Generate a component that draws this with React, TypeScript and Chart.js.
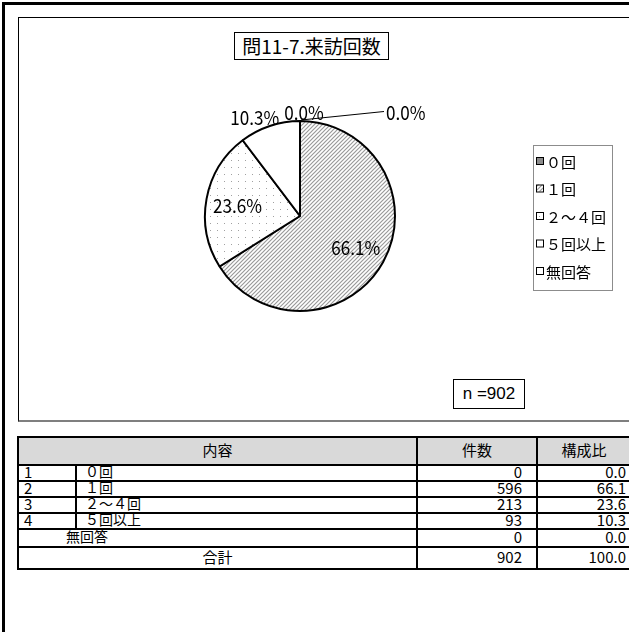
import React, { useEffect, useRef } from "react";
import { Chart, registerables } from "chart.js";

Chart.register(...registerables);

const chartTitle = "問11-7.来訪回数";
const categories = ["０回", "１回", "２～４回", "５回以上", "無回答"];
const counts = [0, 596, 213, 93, 0];
const percents = [0.0, 66.1, 23.6, 10.3, 0.0];
const rowNumbers = ["1", "2", "3", "4"];
const totalLabel = "合計";
const totalCount = 902;
const totalPercent = 100.0;
const sampleSize = "n =902";
const tableHeaders = ["内容", "件数", "構成比"];

const CJK = "'Noto Sans CJK JP', 'Noto Sans', sans-serif";

function makeHatch(): CanvasPattern | string {
  const c = document.createElement("canvas");
  c.width = 4;
  c.height = 4;
  const g = c.getContext("2d");
  if (!g) return "#ccc";
  g.fillStyle = "#ffffff";
  g.fillRect(0, 0, 4, 4);
  g.strokeStyle = "#9a9a9a";
  g.lineWidth = 1.2;
  g.beginPath();
  g.moveTo(0, 4);
  g.lineTo(4, 0);
  g.moveTo(-1, 1);
  g.lineTo(1, -1);
  g.moveTo(3, 5);
  g.lineTo(5, 3);
  g.stroke();
  return g.createPattern(c, "repeat") || "#ccc";
}

function makeDots(): CanvasPattern | string {
  const c = document.createElement("canvas");
  c.width = 7;
  c.height = 7;
  const g = c.getContext("2d");
  if (!g) return "#eee";
  g.fillStyle = "#ffffff";
  g.fillRect(0, 0, 7, 7);
  g.fillStyle = "#a0a0a0";
  g.fillRect(3, 3, 1, 1);
  return g.createPattern(c, "repeat") || "#eee";
}

const leaderRun = 84;
const labelScaleX = 0.9;

const pieDecor = {
  id: "pieDecor",
  afterDatasetsDraw(chart: any) {
    const ctx: CanvasRenderingContext2D = chart.ctx;
    const meta = chart.getDatasetMeta(0);
    const placed: { cx: number; cy: number; w: number }[] = [];
    ctx.save();
    ctx.font = `19px ${CJK}`;
    ctx.fillStyle = "#000";
    ctx.textAlign = "center";
    ctx.textBaseline = "middle";
    const h = 15;
    const overlapping = (cx: number, cy: number, w: number) =>
      placed.find((r) => Math.abs(r.cx - cx) < (r.w + w) / 2 && Math.abs(r.cy - cy) < h);
    meta.data.forEach((arc: any, i: number) => {
      const { x, y, startAngle, endAngle, outerRadius } = arc.getProps(
        ["x", "y", "startAngle", "endAngle", "outerRadius"],
        true
      );
      const pct = percents[i];
      const text = pct.toFixed(1) + "%";
      const mid = (startAngle + endAngle) / 2;
      const dx = Math.cos(mid);
      const dy = Math.sin(mid);
      const w = ctx.measureText(text).width * labelScaleX;
      let cx: number;
      let cy: number;
      if (pct >= 15) {
        cx = x + dx * outerRadius * 0.67;
        cy = y + dy * outerRadius * 0.67 + 1;
      } else {
        const px = x + dx * (outerRadius + 2);
        const py = y + dy * (outerRadius + 2);
        cx = px + (dx * w) / 2 + 4;
        cy = py + (dy * h) / 2 + 1;
        const hit = overlapping(cx, cy, w);
        if (hit) {
          if (pct > 0) {
            cx = hit.cx - hit.w / 2 - 5 - w / 2;
          } else {
            const ex = px + leaderRun;
            ctx.beginPath();
            ctx.strokeStyle = "#000";
            ctx.lineWidth = 1;
            ctx.moveTo(px + 1, py + 1);
            ctx.lineTo(ex, cy - 1);
            ctx.stroke();
            cx = ex + 2 + w / 2;
          }
        }
      }
      placed.push({ cx, cy, w });
      ctx.save();
      ctx.translate(cx, cy);
      ctx.scale(labelScaleX, 1);
      ctx.fillText(text, 0, 0);
      ctx.restore();
    });

    // legend
    const lx = 515;
    const ly = 128;
    const lw = 79;
    const lh = 145;
    ctx.strokeStyle = "#8c8c8c";
    ctx.lineWidth = 1;
    ctx.fillStyle = "#fff";
    ctx.fillRect(lx, ly, lw, lh);
    ctx.strokeRect(lx + 0.5, ly + 0.5, lw, lh);
    const ds = chart.data.datasets[0];
    ctx.font = `15px ${CJK}`;
    ctx.textAlign = "left";
    ctx.textBaseline = "middle";
    chart.data.labels.forEach((label: string, i: number) => {
      const iy = ly + 16 + i * 27.5;
      ctx.fillStyle = ds.backgroundColor[i];
      ctx.fillRect(lx + 3, iy - 4, 7, 7);
      ctx.strokeStyle = "#000";
      ctx.lineWidth = 1;
      ctx.strokeRect(lx + 3.5, iy - 3.5, 7, 7);
      ctx.fillStyle = "#000";
      ctx.fillText(label, lx + 13, iy + 1);
    });
    ctx.restore();
  },
};

export default function App() {
  const ref = useRef<HTMLCanvasElement>(null);
  useEffect(() => {
    const canvas = ref.current;
    if (!canvas) return;
    const colors = ["#8c8c8c", makeHatch(), makeDots(), "#ffffff", "#ffffff"];
    const chart = new Chart(canvas, {
      type: "pie",
      data: {
        labels: categories,
        datasets: [
          {
            data: counts,
            backgroundColor: colors as any,
            borderColor: "#000",
            borderWidth: 2,
          },
        ],
      },
      options: {
        responsive: false,
        animation: false,
        devicePixelRatio: 1,
        layout: { padding: { left: 186, right: 233, top: 103, bottom: 109 } },
        plugins: {
          legend: { display: false },
          tooltip: { enabled: false },
        },
      },
      plugins: [pieDecor],
    });
    return () => chart.destroy();
  }, []);

  const cell: React.CSSProperties = {
    border: "2px solid #000",
    padding: 0,
    paddingBottom: 3,
    lineHeight: "11px",
    whiteSpace: "nowrap",
    fontSize: 14,
    verticalAlign: "middle",
  };
  const numCell: React.CSSProperties = {
    ...cell,
    textAlign: "right",
    fontSize: 15,
    paddingRight: 12,
  };
  const rowH = 16;

  return (
    <div
      style={{
        position: "absolute",
        left: 0,
        top: 0,
        width: 629,
        height: 632,
        overflow: "hidden",
        background: "#fff",
        fontFamily: CJK,
      }}
    >
      <div
        style={{
          position: "absolute",
          left: 2,
          top: 2,
          width: 800,
          height: 800,
          border: "3px solid #000",
          boxSizing: "border-box",
        }}
      />
      <div
        style={{
          position: "absolute",
          left: 18,
          top: 17,
          width: 700,
          height: 405,
          borderLeft: "1px solid #000",
          borderTop: "1px solid #000",
          borderBottom: "2px solid #7f7f7f",
          boxSizing: "border-box",
        }}
      />
      <canvas
        ref={ref}
        width={611}
        height={404}
        style={{ position: "absolute", left: 18, top: 17, width: 611, height: 404 }}
      />
      <div
        style={{
          position: "absolute",
          left: 234,
          top: 32,
          width: 155,
          height: 28,
          border: "1px solid #000",
          boxSizing: "border-box",
          fontSize: 19,
          lineHeight: "26px",
          textAlign: "center",
          background: "#fff",
        }}
      >
        {chartTitle}
      </div>
      <div
        style={{
          position: "absolute",
          left: 453,
          top: 379,
          width: 72,
          height: 30,
          border: "1px solid #000",
          boxSizing: "border-box",
          fontSize: 17,
          fontFamily: "'Liberation Sans', Arial, sans-serif",
          lineHeight: "28px",
          textAlign: "center",
          background: "#fff",
        }}
      >
        {sampleSize}
      </div>
      <table
        style={{
          position: "absolute",
          left: 17,
          top: 436,
          width: 621,
          borderCollapse: "collapse",
          tableLayout: "fixed",
          fontFamily: CJK,
        }}
      >
        <colgroup>
          <col style={{ width: 58 }} />
          <col style={{ width: 341 }} />
          <col style={{ width: 120 }} />
          <col style={{ width: 102 }} />
        </colgroup>
        <tbody>
          <tr style={{ height: 28, background: "#d9d9d9" }}>
            <td colSpan={2} style={{ ...cell, fontSize: 15, textAlign: "center" }}>
              {tableHeaders[0]}
            </td>
            <td style={{ ...cell, fontSize: 15, textAlign: "center" }}>{tableHeaders[1]}</td>
            <td style={{ ...cell, fontSize: 15, textAlign: "center", paddingRight: 8 }}>
              {tableHeaders[2]}
            </td>
          </tr>
          {rowNumbers.map((n, i) => (
            <tr key={n} style={{ height: rowH }}>
              <td style={{ ...cell, paddingLeft: 5, fontSize: 15 }}>{n}</td>
              <td style={{ ...cell, paddingLeft: 8 }}>{categories[i]}</td>
              <td style={{ ...numCell, paddingRight: 14 }}>{counts[i]}</td>
              <td style={{ ...numCell }}>{percents[i].toFixed(1)}</td>
            </tr>
          ))}
          <tr style={{ height: 18 }}>
            <td colSpan={2} style={{ ...cell, paddingLeft: 47 }}>
              {categories[4]}
            </td>
            <td style={{ ...numCell, paddingRight: 14 }}>{counts[4]}</td>
            <td style={{ ...numCell }}>{percents[4].toFixed(1)}</td>
          </tr>
          <tr style={{ height: 22 }}>
            <td colSpan={2} style={{ ...cell, fontSize: 15, textAlign: "center" }}>
              {totalLabel}
            </td>
            <td style={{ ...numCell, paddingRight: 14 }}>{totalCount}</td>
            <td style={{ ...numCell }}>{totalPercent.toFixed(1)}</td>
          </tr>
        </tbody>
      </table>
    </div>
  );
}
